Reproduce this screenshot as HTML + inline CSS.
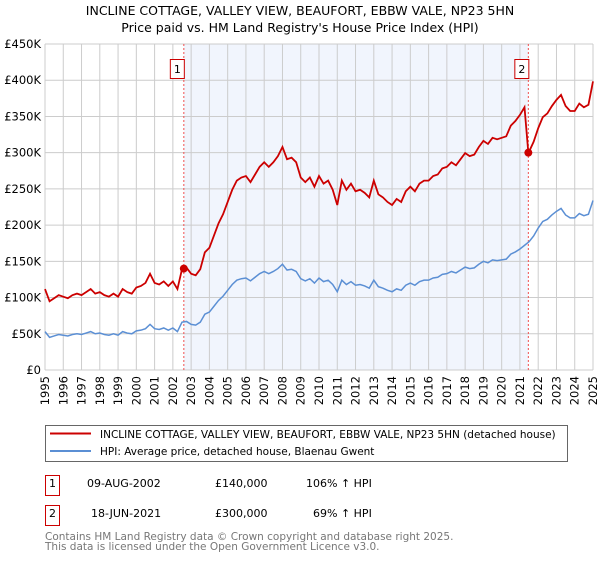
<!DOCTYPE html>
<html><head><meta charset="utf-8"><style>
body{margin:0;background:#fff;font-family:"Liberation Sans","DejaVu Sans",sans-serif;}
svg text{font-family:"DejaVu Sans","Liberation Sans",sans-serif;}
</style></head><body>
<svg id="c" width="600" height="560" xmlns="http://www.w3.org/2000/svg">
<text x="300" y="15" text-anchor="middle" font-size="12.5" fill="#000">INCLINE COTTAGE, VALLEY VIEW, BEAUFORT, EBBW VALE, NP23 5HN</text>
<text x="300" y="32" text-anchor="middle" font-size="12.5" fill="#000">Price paid vs. HM Land Registry's House Price Index (HPI)</text>
<g id="grid"></g><g id="series"></g><g id="axes"></g>
<rect x="45.5" y="425.5" width="522" height="36" fill="#fff" stroke="#666"/>
<line x1="50" y1="433.5" x2="91" y2="433.5" stroke="#cc0000" stroke-width="2"/>
<text x="100" y="438" font-size="10.5">INCLINE COTTAGE, VALLEY VIEW, BEAUFORT, EBBW VALE, NP23 5HN (detached house)</text>
<line x1="50" y1="451" x2="91" y2="451" stroke="#5b8fd4" stroke-width="2"/>
<text x="100" y="455" font-size="10.5">HPI: Average price, detached house, Blaenau Gwent</text>
<g>
<rect x="45.5" y="475.5" width="14" height="20" fill="#fff" stroke="#cc0000"/>
<text x="52.5" y="487" font-size="11" text-anchor="middle">1</text>
<text x="87" y="487" font-size="11">09-AUG-2002</text>
<text x="215" y="487" font-size="11">£140,000</text>
<text x="306" y="487" font-size="11">106% ↑ HPI</text></g>
<g>
<rect x="45.5" y="505.5" width="14" height="20" fill="#fff" stroke="#cc0000"/>
<text x="52.5" y="517" font-size="11" text-anchor="middle">2</text>
<text x="91" y="517" font-size="11">18-JUN-2021</text>
<text x="215" y="517" font-size="11">£300,000</text>
<text x="313" y="517" font-size="11">69% ↑ HPI</text></g>
<text x="45" y="540" font-size="10.5" fill="#777">Contains HM Land Registry data © Crown copyright and database right 2025.</text>
<text x="45" y="550" font-size="10.5" fill="#777">This data is licensed under the Open Government Licence v3.0.</text>
</svg>
<script>
const hpiStartYear = 1995;
const hpiValuesK = [53,45,47,49, 48,47,49,50, 49,51,53,50, 51,49,48,50, 48,53,51,50, 54,55,57,63, 57,56,58,55, 58,53,66,67, 63,62,66,77, 80,88,96,102, 110,118,124,126, 127,123,128,133, 136,133,136,140, 146,138,139,136, 126,123,126,120, 127,122,124,118, 108,124,118,122, 117,118,116,113, 124,115,113,110, 108,112,110,117, 120,117,122,124, 124,127,128,132, 133,136,134,138, 142,140,141,146, 150,148,152,151, 152,153,160,163, 167,172,177,185, 196,205,208,214, 219,223,214,210, 210,216,213,215, 234];
const saleYears = [2002.6, 2021.46];
const salePricesK = [140, 300];
const saleLabels = ["1","2"];
const yTicksK = [0,50,100,150,200,250,300,350,400,450];
const yTickLabels = ["£0","£50K","£100K","£150K","£200K","£250K","£300K","£350K","£400K","£450K"];
const xTickYears = [];for(let y=1995;y<=2025;y++)xTickYears.push(y);

const NS="http://www.w3.org/2000/svg";
const L=45,R=593,T=44,B=370;
const xs=y=>L+(y-1995)/30*(R-L);
const ys=v=>B-v/450*(B-T);
function mk(t,a,p){const e=document.createElementNS(NS,t);for(const k in a)e.setAttribute(k,a[k]);p.appendChild(e);return e;}
const grid=document.getElementById('grid'),ser=document.getElementById('series'),ax=document.getElementById('axes');
const shade=mk('rect',{x:xs(saleYears[0]),y:T,width:xs(saleYears[1])-xs(saleYears[0]),height:B-T,fill:'#eef3fc',opacity:0.8},grid);


yTicksK.forEach((v,i)=>{
 const g=mk('line',{x1:L,x2:R,y1:ys(v),y2:ys(v),stroke:'#ccc'},grid);
 
 
 const t=mk('text',{x:L-4,y:ys(v)+4,'text-anchor':'end','font-size':11.5},ax);t.textContent=yTickLabels[i];
 
 
});
xTickYears.forEach(y=>{
 const g=mk('line',{x1:xs(y),x2:xs(y),y1:T,y2:B,stroke:'#ccc'},grid);
 
 
 const t=mk('text',{x:0,y:0,'text-anchor':'end','font-size':11.5,transform:`translate(${xs(y)+4},${B+6}) rotate(-90)`},ax);t.textContent=y;
 
 
});
const hpiAt=yr=>{const f=(yr-hpiStartYear)*4,i=Math.floor(f),r=f-i;return hpiValuesK[i]+(hpiValuesK[Math.min(i+1,hpiValuesK.length-1)]-hpiValuesK[i])*r;};
const ratios=saleYears.map((y,i)=>salePricesK[i]/hpiAt(y));
saleYears.forEach((y,i)=>{
 const l=mk('line',{x1:xs(y),x2:xs(y),y1:T,y2:B,stroke:'#f05050','stroke-dasharray':'2,2'},ser);
 
 
});
let pts=[],rpts=[];
hpiValuesK.forEach((v,i)=>{
 const yr=hpiStartYear+i/4;
 pts.push([xs(yr),ys(v)]);
 if(i>0&&yr>saleYears[1]&&hpiStartYear+(i-1)/4<saleYears[1]){rpts.push([xs(saleYears[1]),ys(salePricesK[1])]);}
 const ratio=yr<saleYears[1]?ratios[0]:ratios[1];
 rpts.push([xs(yr),ys(v*ratio)]);
});
const hp=mk('polyline',{points:pts.map(p=>p.join(',')).join(' '),fill:'none',stroke:'#5b8fd4','stroke-width':1.5},ser);


const rp=mk('polyline',{points:rpts.map(p=>p.join(',')).join(' '),fill:'none',stroke:'#cc0000','stroke-width':1.8},ser);


saleYears.forEach((y,i)=>{
 const d=mk('circle',{cx:xs(y),cy:ys(salePricesK[i]),r:4,fill:'#cc0000'},ser);
 
 
 const bx=mk('rect',{x:xs(y)-13.5,y:59.5,width:14,height:19,fill:'#fff',stroke:'#cc0000'},ser);
 
 
 const t=mk('text',{x:xs(y)-6.5,y:73,'text-anchor':'middle','font-size':11},ser);t.textContent=saleLabels[i];
 
 
});
</script>
</body></html>
